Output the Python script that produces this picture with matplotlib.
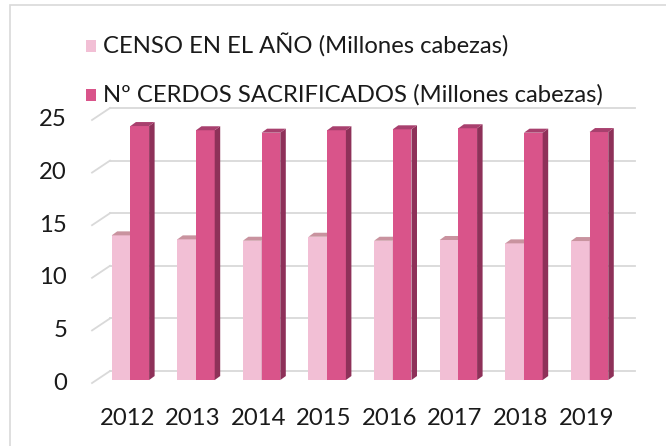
import numpy as np
import matplotlib
matplotlib.use("Agg")
import matplotlib.pyplot as plt
from matplotlib.patches import Polygon, Rectangle

years = ["2012", "2013", "2014", "2015", "2016", "2017", "2018", "2019"]
censo = [13.75, 13.37, 13.24, 13.62, 13.24, 13.31, 12.99, 13.21]
sacrificados = [24.14, 23.74, 23.51, 23.74, 23.83, 23.93, 23.51, 23.57]
series_names = ["CENSO EN EL AÑO (Millones cabezas)",
                "Nº CERDOS SACRIFICADOS (Millones cabezas)"]
yticks = [0, 5, 10, 15, 20, 25]

# face colours: front, side, top
light = ("#F2BFD5", "#C98FA8", "#C9939F")
dark = ("#D9548A", "#8E3159", "#A8406E")
grid_col = "#D9D9D9"
fs = 17.2

plt.rcParams["font.family"] = ["Lato", "DejaVu Sans"]

fig = plt.figure(figsize=(6.66, 4.46), dpi=100)
ax = fig.add_axes([0, 0, 1, 1])
ax.set_xlim(-1.988, 8.165)
ax.set_ylim(-6.27, 36.12)
ax.axis("off")

# outer chart border
fig.patches.append(Rectangle((10 / 666, -0.1), 1.2, 1.1 - 5 / 446, transform=fig.transFigure,
                             fill=False, edgecolor=grid_col, linewidth=1.2))

x = np.arange(len(years))
w = 0.285
ddx, ddy = 0.084, 0.38          # bar depth
wall_front, wall_back, grid_end = -0.585, -0.311, 7.69
floor_front, floor_back = -0.285, 0.855

# gridlines on back wall plus the short diagonal on the side wall
for v in yticks:
    ax.plot([wall_back, grid_end], [v + floor_back, v + floor_back], color=grid_col, lw=1.3, zorder=1)
    ax.plot([wall_front, wall_back], [v + floor_front, v + floor_back], color=grid_col, lw=1.3, zorder=1)
    ax.text(-0.966, v + floor_front, str(v), ha="right", va="center", fontsize=fs, color="#1a1a1a")


def draw_bars(left, vals, cols, z):
    ax.bar(left, vals, width=w, align="edge", color=cols[0], zorder=z, linewidth=0)
    for x0, v in zip(left, vals):
        side = [(x0 + w, 0), (x0 + w, v), (x0 + w + ddx, v + ddy), (x0 + w + ddx, ddy)]
        top = [(x0, v), (x0 + w, v), (x0 + w + ddx, v + ddy), (x0 + ddx, v + ddy)]
        ax.add_patch(Polygon(side, closed=True, facecolor=cols[1], edgecolor="none", zorder=z))
        ax.add_patch(Polygon(top, closed=True, facecolor=cols[2], edgecolor="none", zorder=z))


draw_bars(x - w, censo, light, 2)
draw_bars(x, sacrificados, dark, 3)

for i, yr in enumerate(years):
    ax.text(i - 0.05, -3.61, yr, ha="center", va="center", fontsize=fs, color="#1a1a1a")

# legend
for k, (name, cols) in enumerate(zip(series_names, [light, dark])):
    yc = 31.75 - k * 4.66
    ax.add_patch(Rectangle((-0.677, yc - 0.55), 0.153, 1.1, facecolor=cols[0], edgecolor="none"))
    ax.text(-0.418, yc, name, ha="left", va="center", fontsize=fs, color="#1a1a1a")

fig.savefig("out.png", dpi=100)
